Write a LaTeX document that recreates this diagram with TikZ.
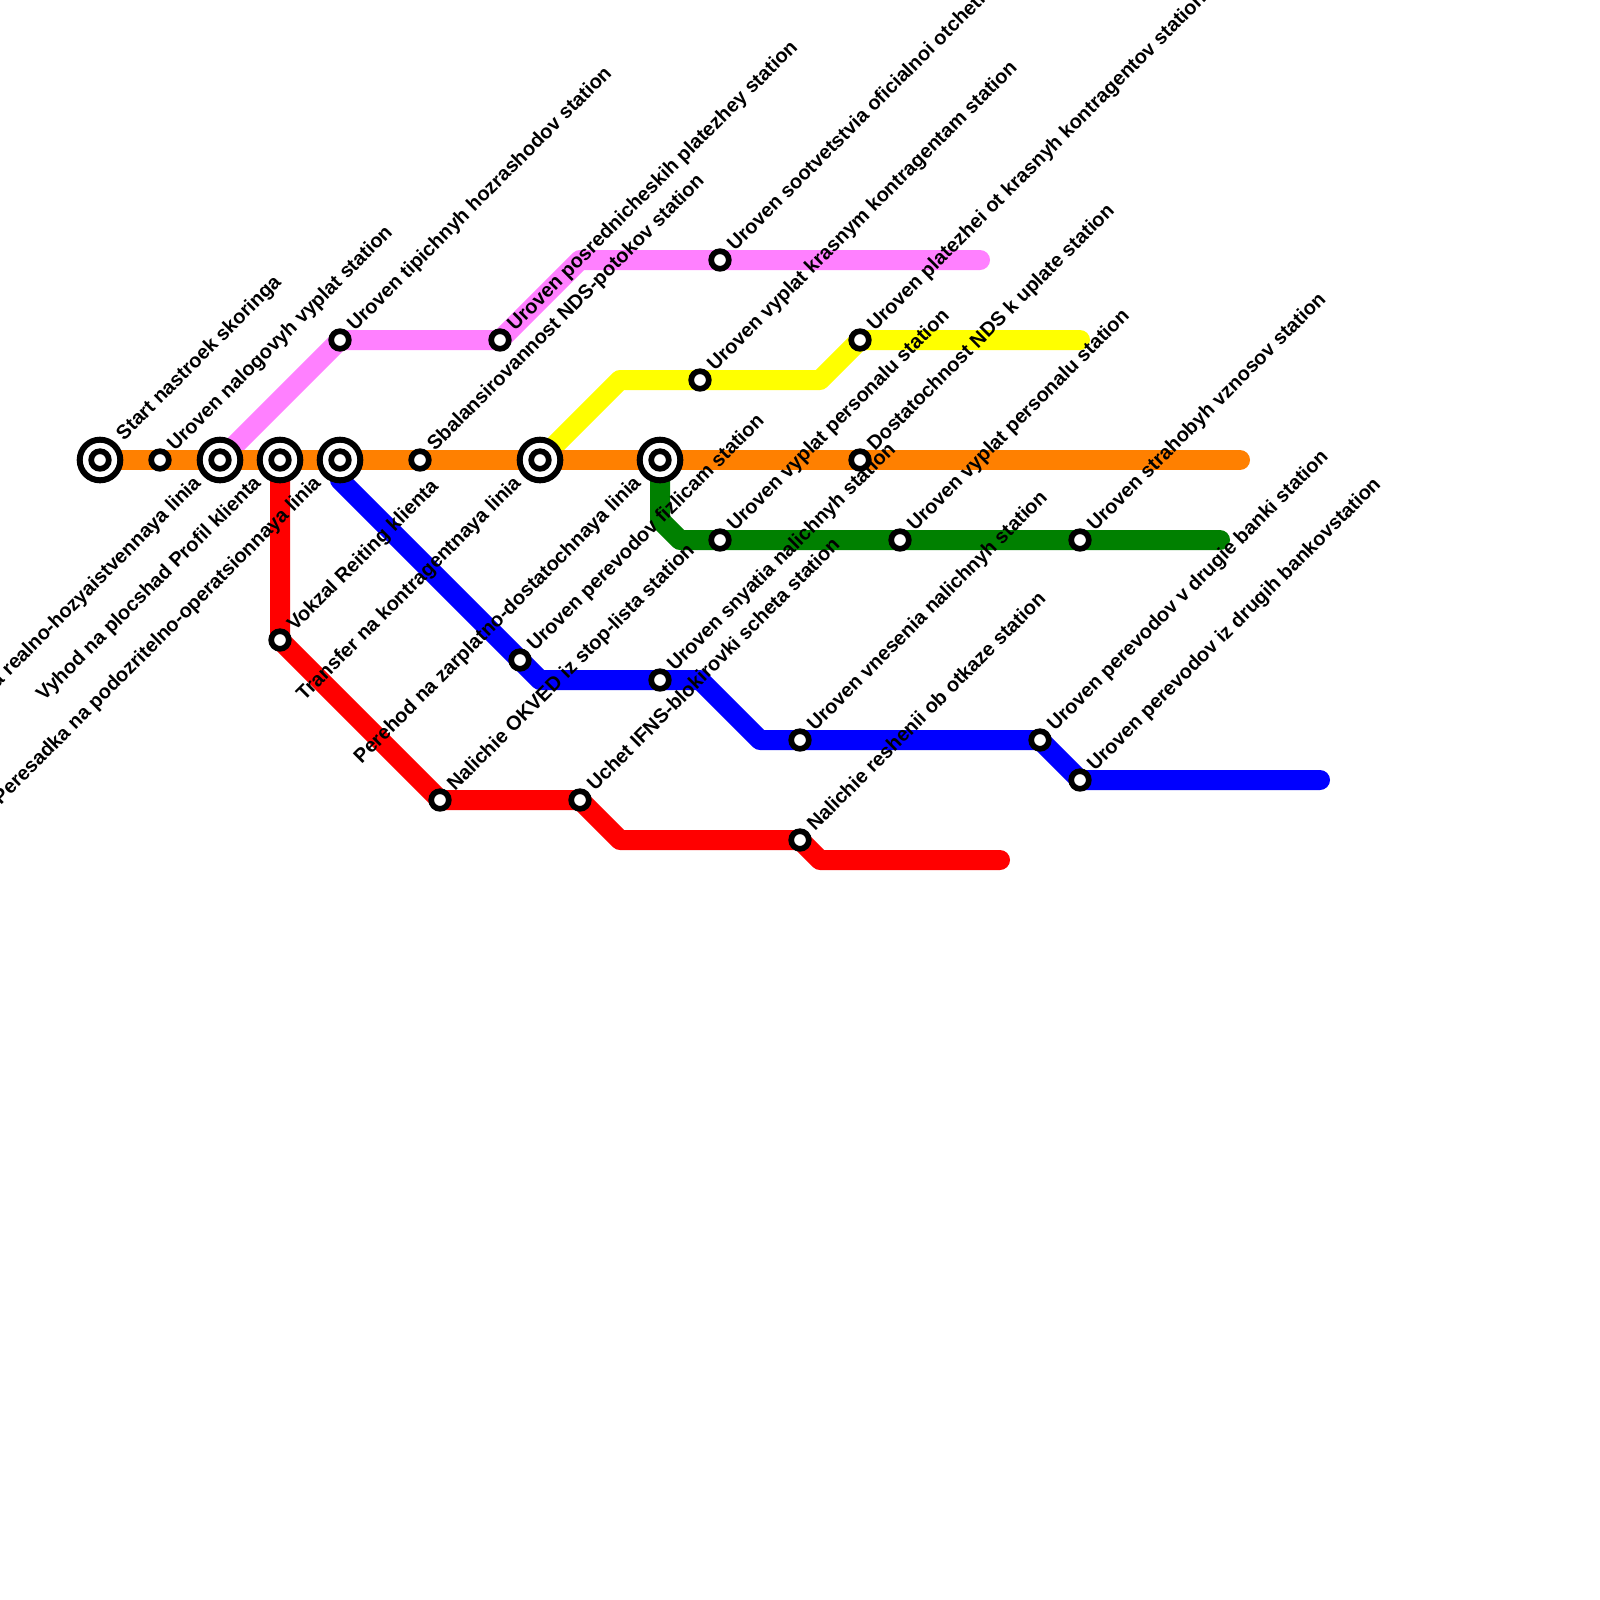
\documentclass[tikz,border=0pt]{standalone}
\usepackage{fontspec}
\setmainfont{Liberation Sans}
\pgfdeclarelayer{lines}
\pgfsetlayers{lines,main}
\definecolor{metroorange}{HTML}{FF8000}
\definecolor{metropink}{HTML}{FF80FF}
\definecolor{metroyellow}{HTML}{FFFF00}
\definecolor{metrored}{HTML}{FF0000}
\definecolor{metroblue}{HTML}{0000FF}
\definecolor{metrogreen}{HTML}{008000}
\begin{document}
\begin{tikzpicture}[
    x=0.025cm, y=-0.025cm,
    halt/.style={circle, draw=black, fill=white, line width=0.1425cm, minimum size=0.44cm, inner sep=0pt},
    hub/.style={circle, draw=black, fill=white, line width=0.15cm, minimum size=1.015cm, inner sep=0pt},
    rname/.style={xshift=0.375cm, yshift=0.2cm, rotate=45, anchor=base west, inner sep=0pt, font=\bfseries\fontsize{14.2}{16}\selectfont},
    rhubname/.style={xshift=0.6cm, yshift=0.47cm, rotate=45, anchor=base west, inner sep=0pt, font=\bfseries\fontsize{14.2}{16}\selectfont},
    lname/.style={xshift=-0.45cm, yshift=-0.6cm, rotate=45, anchor=base east, inner sep=0pt, font=\bfseries\fontsize{14.2}{16}\selectfont},
    metro/.style={line width=0.5cm, line cap=round, line join=round}
]
\useasboundingbox (0,0) rectangle (1600,1600);

% Stations
\node[hub] (start) at (100,460) {};
\node[halt] (startdot) at (start) {};
\node[halt] (nalog) at (160,460) {};
\node[hub] (realno) at (220,460) {};
\node[halt] (realnodot) at (realno) {};
\node[hub] (profil) at (280,460) {};
\node[halt] (profildot) at (profil) {};
\node[hub] (podozr) at (340,460) {};
\node[halt] (podozrdot) at (podozr) {};
\node[halt] (sbalans) at (420,460) {};
\node[hub] (transfer) at (540,460) {};
\node[halt] (transferdot) at (transfer) {};
\node[hub] (zarplata) at (660,460) {};
\node[halt] (zarplatadot) at (zarplata) {};
\node[halt] (dostat) at (860,460) {};
\node[halt] (tipich) at (340,340) {};
\node[halt] (posred) at (500,340) {};
\node[halt] (sootv) at (720,260) {};
\node[halt] (krasnym) at (700,380) {};
\node[halt] (platezh) at (860,340) {};
\node[halt] (reiting) at (280,640) {};
\node[halt] (okved) at (440,800) {};
\node[halt] (ifns) at (580,800) {};
\node[halt] (otkaz) at (800,840) {};
\node[halt] (fizlic) at (520,660) {};
\node[halt] (snyatie) at (660,680) {};
\node[halt] (vnesen) at (800,740) {};
\node[halt] (vdrugie) at (1040,740) {};
\node[halt] (izdrugih) at (1080,780) {};
\node[halt] (personal) at (720,540) {};
\node[halt] (personalb) at (900,540) {};
\node[halt] (strah) at (1080,540) {};

% Bends and line ends
\coordinate (pinkbend) at (580,260);
\coordinate (pinkend) at (980,260);
\coordinate (yellowa) at (620,380);
\coordinate (yellowb) at (820,380);
\coordinate (yellowend) at (1080,340);
\coordinate (orangeend) at (1240,460);
\coordinate (reda) at (620,840);
\coordinate (redb) at (820,860);
\coordinate (redend) at (1000,860);
\coordinate (bluea) at (340,480);
\coordinate (blueb) at (540,680);
\coordinate (bluec) at (700,680);
\coordinate (blued) at (760,740);
\coordinate (blueend) at (1320,780);
\coordinate (greena) at (660,520);
\coordinate (greenb) at (680,540);
\coordinate (greenend) at (1220,540);

% Paths
\begin{pgfonlayer}{lines}
\draw[metro, metrored] (profil.center) -- (reiting.center) -- (okved.center) -- (ifns.center) -- (reda) -- (otkaz.center) -- (redb) -- (redend);
\draw[metro, metroblue] (podozr.center) -- (bluea) -- (fizlic.center) -- (blueb) -- (snyatie.center) -- (bluec) -- (blued) -- (vnesen.center) -- (vdrugie.center) -- (izdrugih.center) -- (blueend);
\draw[metro, metrogreen] (zarplata.center) -- (greena) -- (greenb) -- (personal.center) -- (personalb.center) -- (strah.center) -- (greenend);
\draw[metro, metropink] (realno.center) -- (tipich.center) -- (posred.center) -- (pinkbend) -- (sootv.center) -- (pinkend);
\draw[metro, metroyellow] (transfer.center) -- (yellowa) -- (krasnym.center) -- (yellowb) -- (platezh.center) -- (yellowend);
\draw[metro, metroorange] (start.center) -- (nalog.center) -- (realno.center) -- (profil.center) -- (podozr.center) -- (sbalans.center) -- (transfer.center) -- (zarplata.center) -- (dostat.center) -- (orangeend);
\end{pgfonlayer}

% Labels
\node[rhubname] (starttext) at (start) {Start nastroek skoringa};
\node[rname] (nalogtext) at (nalog) {Uroven nalogovyh vyplat station};
\node[lname] (realnotext) at (realno) {Peresadka na realno-hozyaistvennaya linia};
\node[lname] (profiltext) at (profil) {Vyhod na plocshad Profil klienta};
\node[lname] (podozrtext) at (podozr) {Peresadka na podozritelno-operatsionnaya linia};
\node[rname] (sbalanstext) at (sbalans) {Sbalansirovannost NDS-potokov station};
\node[lname] (transfertext) at (transfer) {Transfer na kontragentnaya linia};
\node[lname] (zarplatatext) at (zarplata) {Perehod na zarplatno-dostatochnaya linia};
\node[rname] (dostattext) at (dostat) {Dostatochnost NDS k uplate station};
\node[rname] (tipichtext) at (tipich) {Uroven tipichnyh hozrashodov station};
\node[rname] (posredtext) at (posred) {Uroven posrednicheskih platezhey station};
\node[rname] (sootvtext) at (sootv) {Uroven sootvetstvia oficialnoi otchetnosti station};
\node[rname] (krasnymtext) at (krasnym) {Uroven vyplat krasnym kontragentam station};
\node[rname] (platezhtext) at (platezh) {Uroven platezhei ot krasnyh kontragentov station};
\node[rname] (reitingtext) at (reiting) {Vokzal Reiting klienta};
\node[rname] (okvedtext) at (okved) {Nalichie OKVED iz stop-lista station};
\node[rname] (ifnstext) at (ifns) {Uchet IFNS-blokirovki scheta station};
\node[rname] (otkaztext) at (otkaz) {Nalichie reshenii ob otkaze station};
\node[rname] (fizlictext) at (fizlic) {Uroven perevodov fizlicam station};
\node[rname] (snyatietext) at (snyatie) {Uroven snyatia nalichnyh station};
\node[rname] (vnesentext) at (vnesen) {Uroven vnesenia nalichnyh station};
\node[rname] (vdrugietext) at (vdrugie) {Uroven perevodov v drugie banki station};
\node[rname] (izdrugihtext) at (izdrugih) {Uroven perevodov iz drugih bankovstation};
\node[rname] (personaltext) at (personal) {Uroven vyplat personalu station};
\node[rname] (personalbtext) at (personalb) {Uroven vyplat personalu station};
\node[rname] (strahtext) at (strah) {Uroven strahobyh vznosov station};

\end{tikzpicture}
\end{document}
